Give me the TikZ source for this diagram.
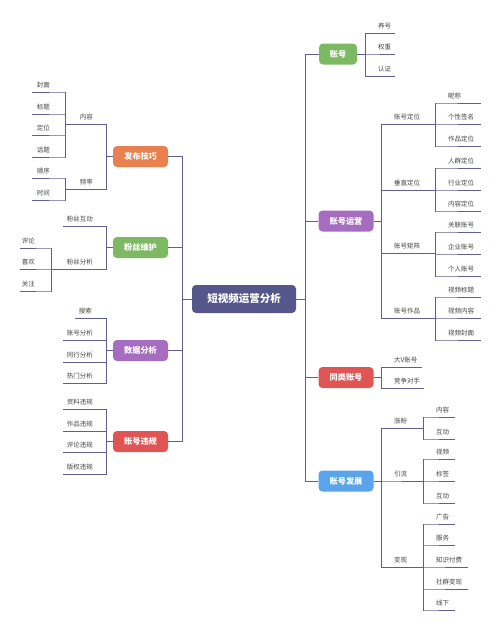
\documentclass[tikz,border=0pt]{standalone}
\usepackage{fontspec}
\newfontfamily\cjk{Noto Sans CJK SC}
\definecolor{rootc}{HTML}{55578B}
\definecolor{orangec}{HTML}{E8804F}
\definecolor{greenc}{HTML}{7DB862}
\definecolor{purplec}{HTML}{A66CC0}
\definecolor{redc}{HTML}{E05454}
\definecolor{bluec}{HTML}{5AA4EC}
\definecolor{linec}{HTML}{615F92}
\definecolor{textc}{HTML}{444444}
\newcommand\leaffont{\cjk\fontsize{6.5}{8}\selectfont}

\begin{document}
\begin{tikzpicture}[x=1pt,y=-1pt,
  conn/.style={draw=linec,line width=1pt},
  root/.style={fill=rootc,rounded corners=4pt,text=white,inner sep=0pt,
    minimum width=104pt,minimum height=28pt,font=\cjk\bfseries\fontsize{10.5}{12}\selectfont},
  branch/.style={fill=#1,rounded corners=4pt,text=white,inner sep=0pt,
    minimum width=55pt,minimum height=21pt,font=\cjk\bfseries\fontsize{8.2}{10}\selectfont},
  rleaf/.style={anchor=south west,inner xsep=0pt,inner ysep=3pt,text width=#1,align=left,
    text height=5.5pt,text depth=1pt,font=\leaffont,text=textc,
    execute at begin node={\hspace*{13pt}}},
  lleaf/.style 2 args={anchor=south east,inner xsep=0pt,inner ysep=3pt,text width=#1,align=right,
    text height=5.5pt,text depth=1pt,font=\leaffont,text=textc,
    execute at end node={\hspace*{#2}}}]
\useasboundingbox (0,0) rectangle (500,629);

\node[root] (root) at (244,299) {短视频运营分析};

\node[branch=orangec] (fabu) at (140.5,156.5) {发布技巧};
\node[branch=greenc] (fensi) at (140.5,247.5) {粉丝维护};
\node[branch=purplec] (shuju) at (140.5,350.5) {数据分析};
\node[branch=redc] (weigui) at (140.5,441.5) {账号违规};
\node[branch=greenc,minimum width=38pt] (zhanghao) at (338,54) {账号};
\node[branch=purplec] (yunying) at (346,221) {账号运营};
\node[branch=redc] (tonglei) at (346,377.5) {同类账号};
\node[branch=bluec] (fazhan) at (346,481) {账号发展};

\draw[conn] (root.west) -- ++(-9,0) |- (fabu.east);
\draw[conn] (root.west) -- ++(-9,0) |- (fensi.east);
\draw[conn] (root.west) -- ++(-9,0) |- (shuju.east);
\draw[conn] (root.west) -- ++(-9,0) |- (weigui.east);
\draw[conn] (root.east) -- ++(9,0) |- (zhanghao.west);
\draw[conn] (root.east) -- ++(9,0) |- (yunying.west);
\draw[conn] (root.east) -- ++(9,0) |- (tonglei.west);
\draw[conn] (root.east) -- ++(9,0) |- (fazhan.west);

% 发布技巧
\node[lleaf={40pt}{13pt}] (neirong) at (106,124) {内容};
\node[lleaf={40pt}{13pt}] (pinlv) at (106,189) {频率};
\draw[conn] (fabu.west) -| (neirong.south east) -- (neirong.south west);
\draw[conn] (fabu.west) -| (pinlv.south east) -- (pinlv.south west);
\node[lleaf={34pt}{16pt}] (fengmian) at (66,92) {封面};
\node[lleaf={34pt}{16pt}] (biaoti) at (66,114) {标题};
\node[lleaf={34pt}{16pt}] (dingwei) at (66,135) {定位};
\node[lleaf={34pt}{16pt}] (huati) at (66,157) {话题};
\draw[conn] (neirong.south west) |- (fengmian.south east) -- (fengmian.south west);
\draw[conn] (neirong.south west) |- (biaoti.south east) -- (biaoti.south west);
\draw[conn] (neirong.south west) |- (dingwei.south east) -- (dingwei.south west);
\draw[conn] (neirong.south west) |- (huati.south east) -- (huati.south west);
\node[lleaf={34pt}{16pt}] (shunxu) at (66,178) {顺序};
\node[lleaf={34pt}{16pt}] (shijian) at (66,200) {时间};
\draw[conn] (pinlv.south west) |- (shunxu.south east) -- (shunxu.south west);
\draw[conn] (pinlv.south west) |- (shijian.south east) -- (shijian.south west);

% 粉丝维护
\node[lleaf={43pt}{13pt}] (hudong) at (106,226) {粉丝互动};
\node[lleaf={54pt}{13pt}] (fenxi) at (106,269) {粉丝分析};
\draw[conn] (fensi.west) -| (hudong.south east) -- (hudong.south west);
\draw[conn] (fensi.west) -| (fenxi.south east) -- (fenxi.south west);
\node[lleaf={32pt}{17pt}] (pinglun) at (52,248) {评论};
\node[lleaf={32pt}{17pt}] (xihuan) at (52,269) {喜欢};
\node[lleaf={32pt}{17pt}] (guanzhu) at (52,291) {关注};
\draw[conn] (fenxi.south west) |- (pinglun.south east) -- (pinglun.south west);
\draw[conn] (fenxi.south west) |- (xihuan.south east) -- (xihuan.south west);
\draw[conn] (fenxi.south west) |- (guanzhu.south east) -- (guanzhu.south west);

% 数据分析
\node[lleaf={31pt}{14pt}] (sousuo) at (106,318) {搜索};
\node[lleaf={43pt}{13pt}] (zhfx) at (106,340) {账号分析};
\node[lleaf={43pt}{13pt}] (thfx) at (106,362) {同行分析};
\node[lleaf={43pt}{13pt}] (rmfx) at (106,383) {热门分析};
\draw[conn] (shuju.west) -| (sousuo.south east) -- (sousuo.south west);
\draw[conn] (shuju.west) -| (zhfx.south east) -- (zhfx.south west);
\draw[conn] (shuju.west) -| (thfx.south east) -- (thfx.south west);
\draw[conn] (shuju.west) -| (rmfx.south east) -- (rmfx.south west);

% 账号违规
\node[lleaf={43pt}{13pt}] (zlwg) at (106,409) {资料违规};
\node[lleaf={43pt}{13pt}] (zpwg) at (106,431) {作品违规};
\node[lleaf={43pt}{13pt}] (plwg) at (106,452) {评论违规};
\node[lleaf={43pt}{13pt}] (bqwg) at (106,474) {版权违规};
\draw[conn] (weigui.west) -| (zlwg.south east) -- (zlwg.south west);
\draw[conn] (weigui.west) -| (zpwg.south east) -- (zpwg.south west);
\draw[conn] (weigui.west) -| (plwg.south east) -- (plwg.south west);
\draw[conn] (weigui.west) -| (bqwg.south east) -- (bqwg.south west);

% 账号
\node[rleaf=30pt] (yanghao) at (365,33) {养号};
\node[rleaf=30pt] (quanzhong) at (365,54) {权重};
\node[rleaf=30pt] (renzheng) at (365,76) {认证};
\draw[conn] (zhanghao.east) -| (yanghao.south west) -- (yanghao.south east);
\draw[conn] (zhanghao.east) -| (quanzhong.south west) -- (quanzhong.south east);
\draw[conn] (zhanghao.east) -| (renzheng.south west) -- (renzheng.south east);

% 账号运营
\node[rleaf=54pt] (zhdw) at (381,124) {账号定位};
\node[rleaf=54pt] (czdw) at (381,190) {垂直定位};
\node[rleaf=54pt] (zhjz) at (381,253) {账号矩阵};
\node[rleaf=54pt] (zhzp) at (381,318) {账号作品};
\draw[conn] (yunying.east) -| (zhdw.south west) -- (zhdw.south east);
\draw[conn] (yunying.east) -| (czdw.south west) -- (czdw.south east);
\draw[conn] (yunying.east) -| (zhjz.south west) -- (zhjz.south east);
\draw[conn] (yunying.east) -| (zhzp.south west) -- (zhzp.south east);
\node[rleaf=46pt] (nicheng) at (435,103) {昵称};
\node[rleaf=46pt] (gxqm) at (435,124) {个性签名};
\node[rleaf=46pt] (zpdw) at (435,146) {作品定位};
\draw[conn] (zhdw.south east) |- (nicheng.south west) -- (nicheng.south east);
\draw[conn] (zhdw.south east) |- (gxqm.south west) -- (gxqm.south east);
\draw[conn] (zhdw.south east) |- (zpdw.south west) -- (zpdw.south east);
\node[rleaf=46pt] (rqdw) at (435,168) {人群定位};
\node[rleaf=46pt] (hydw) at (435,190) {行业定位};
\node[rleaf=46pt] (nrdw) at (435,211) {内容定位};
\draw[conn] (czdw.south east) |- (rqdw.south west) -- (rqdw.south east);
\draw[conn] (czdw.south east) |- (hydw.south west) -- (hydw.south east);
\draw[conn] (czdw.south east) |- (nrdw.south west) -- (nrdw.south east);
\node[rleaf=46pt] (glzh) at (435,232) {关联账号};
\node[rleaf=46pt] (qyzh) at (435,254) {企业账号};
\node[rleaf=46pt] (grzh) at (435,276) {个人账号};
\draw[conn] (zhjz.south east) |- (glzh.south west) -- (glzh.south east);
\draw[conn] (zhjz.south east) |- (qyzh.south west) -- (qyzh.south east);
\draw[conn] (zhjz.south east) |- (grzh.south west) -- (grzh.south east);
\node[rleaf=46pt] (spbt) at (435,297) {视频标题};
\node[rleaf=46pt] (spnr) at (435,318) {视频内容};
\node[rleaf=46pt] (spfm) at (435,340) {视频封面};
\draw[conn] (zhzp.south east) |- (spbt.south west) -- (spbt.south east);
\draw[conn] (zhzp.south east) |- (spnr.south west) -- (spnr.south east);
\draw[conn] (zhzp.south east) |- (spfm.south west) -- (spfm.south east);

% 同类账号
\node[rleaf=41pt] (dav) at (381,367) {大V账号};
\node[rleaf=43pt] (jzds) at (381,388) {竞争对手};
\draw[conn] (tonglei.east) -| (dav.south west) -- (dav.south east);
\draw[conn] (tonglei.east) -| (jzds.south west) -- (jzds.south east);

% 账号发展
\node[rleaf=42pt] (zhangfen) at (381,428) {涨粉};
\node[rleaf=42pt] (yinliu) at (381,481) {引流};
\node[rleaf=42pt] (bianxian) at (381,567) {变现};
\draw[conn] (fazhan.east) -| (zhangfen.south west) -- (zhangfen.south east);
\draw[conn] (fazhan.east) -| (yinliu.south west) -- (yinliu.south east);
\draw[conn] (fazhan.east) -| (bianxian.south west) -- (bianxian.south east);
\node[rleaf=32pt] (zfnr) at (423,417) {内容};
\node[rleaf=32pt] (zfhd) at (423,439) {互动};
\draw[conn] (zhangfen.south east) |- (zfnr.south west) -- (zfnr.south east);
\draw[conn] (zhangfen.south east) |- (zfhd.south west) -- (zfhd.south east);
\node[rleaf=32pt] (shipin) at (423,459) {视频};
\node[rleaf=32pt] (biaoqian) at (423,481) {标签};
\node[rleaf=32pt] (ylhd) at (423,503) {互动};
\draw[conn] (yinliu.south east) |- (shipin.south west) -- (shipin.south east);
\draw[conn] (yinliu.south east) |- (biaoqian.south west) -- (biaoqian.south east);
\draw[conn] (yinliu.south east) |- (ylhd.south west) -- (ylhd.south east);
\node[rleaf=32pt] (guanggao) at (423,524) {广告};
\node[rleaf=32pt] (fuwu) at (423,545) {服务};
\node[rleaf=45pt] (zsff) at (423,567) {知识付费};
\node[rleaf=45pt] (sqbx) at (423,589) {社群变现};
\node[rleaf=32pt] (xianxia) at (423,610) {线下};
\draw[conn] (bianxian.south east) |- (guanggao.south west) -- (guanggao.south east);
\draw[conn] (bianxian.south east) |- (fuwu.south west) -- (fuwu.south east);
\draw[conn] (bianxian.south east) |- (zsff.south west) -- (zsff.south east);
\draw[conn] (bianxian.south east) |- (sqbx.south west) -- (sqbx.south east);
\draw[conn] (bianxian.south east) |- (xianxia.south west) -- (xianxia.south east);
\end{tikzpicture}
\end{document}
